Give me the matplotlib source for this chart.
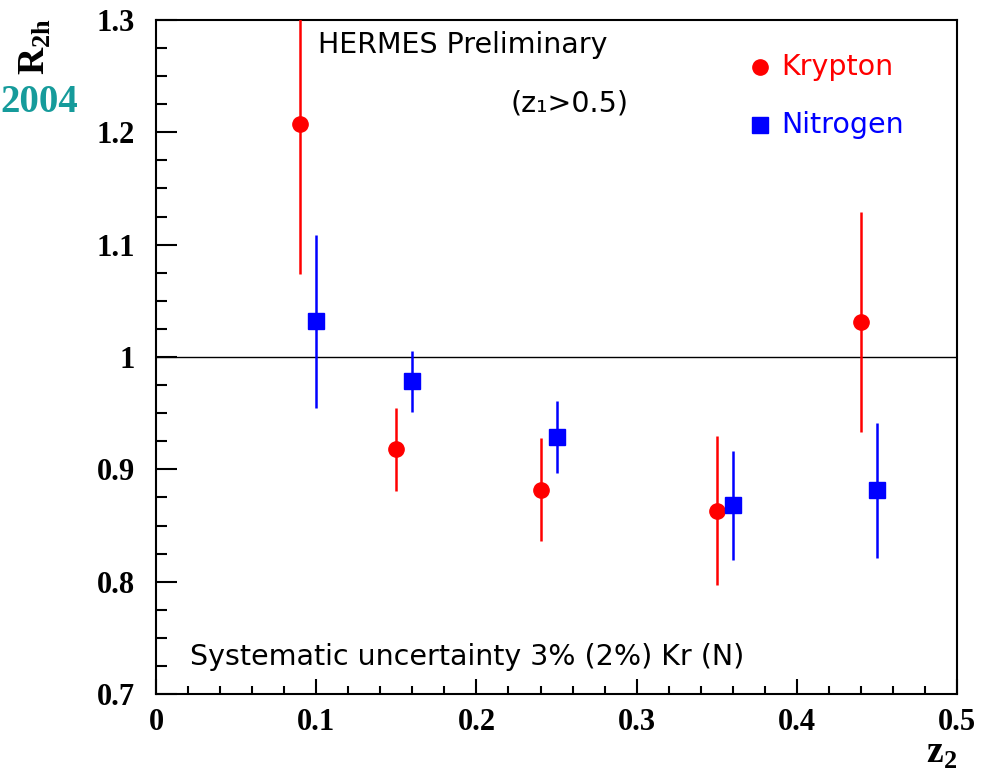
import numpy as np
import matplotlib
matplotlib.use("Agg")
import matplotlib.pyplot as plt
from matplotlib.ticker import MultipleLocator

# Krypton data
kr_z = [0.09, 0.15, 0.24, 0.35, 0.44]
kr_r = [1.207, 0.918, 0.882, 0.863, 1.031]
kr_lo = [0.133, 0.037, 0.046, 0.066, 0.098]
kr_hi = [0.133, 0.037, 0.046, 0.067, 0.098]

# Nitrogen data
n_z = [0.10, 0.16, 0.25, 0.36, 0.45]
n_r = [1.032, 0.979, 0.929, 0.868, 0.882]
n_lo = [0.077, 0.028, 0.032, 0.049, 0.061]
n_hi = [0.077, 0.026, 0.032, 0.048, 0.059]

xticks = [0, 0.1, 0.2, 0.3, 0.4, 0.5]
yticks = [0.7, 0.8, 0.9, 1.0, 1.1, 1.2, 1.3]

fig = plt.figure(figsize=(9.9, 7.77), dpi=100)
ax = fig.add_axes([0.1576, 0.1068, 0.8091, 0.8675])

ax.axhline(1.0, color="black", lw=1.0, zorder=1)

ax.errorbar(kr_z, kr_r, yerr=[kr_lo, kr_hi], fmt="o", color="red",
            ms=11, lw=1.8, capsize=0, zorder=3)
ax.errorbar(n_z, n_r, yerr=[n_lo, n_hi], fmt="s", color="blue",
            ms=12, lw=1.8, capsize=0, zorder=3)

ax.set_xlim(0, 0.5)
ax.set_ylim(0.7, 1.3)
ax.xaxis.set_minor_locator(MultipleLocator(0.02))
ax.yaxis.set_minor_locator(MultipleLocator(0.025))
ax.tick_params(which="both", direction="in", top=False, right=False, width=1.5)
ax.tick_params(axis="x", which="major", length=11, pad=10)
ax.tick_params(axis="x", which="minor", length=6)
ax.tick_params(axis="y", which="major", length=15, pad=15)
ax.tick_params(axis="y", which="minor", length=8)
ax.set_xticks(xticks)
ax.set_xticklabels(["0", "0.1", "0.2", "0.3", "0.4", "0.5"])
ax.set_yticks(yticks)
ax.set_yticklabels(["0.7", "0.8", "0.9", "1", "1.1", "1.2", "1.3"])
for lab in ax.get_xticklabels() + ax.get_yticklabels():
    lab.set_fontfamily("Liberation Serif")
    lab.set_fontweight("bold")
    lab.set_fontsize(22)
for s in ax.spines.values():
    s.set_linewidth(1.5)

# annotations
txt = dict(fontfamily="DejaVu Sans", fontsize=20.5)
ax.text(0.101, 1.278, "HERMES Preliminary", va="center", ha="left", **txt)
ax.text(0.221, 1.226, "(z\u2081>0.5)", va="center", ha="left", **txt)
ax.text(0.021, 0.733, "Systematic uncertainty 3% (2%) Kr (N)", va="center", ha="left", **txt)

ax.plot([0.377], [1.258], "o", color="red", ms=11)
ax.text(0.39, 1.258, "Krypton", color="red", va="center", ha="left", **txt)
ax.plot([0.377], [1.2065], "s", color="blue", ms=11)
ax.text(0.39, 1.2065, "Nitrogen", color="blue", va="center", ha="left", **txt)

fig.text(0.036, 0.94, "R$_\\mathregular{2h}$", rotation=90, ha="center", va="center",
         fontfamily="Liberation Serif", fontweight="bold", fontsize=27)
fig.text(0.0, 0.868, "2004", color="#169b9b", ha="left", va="center",
         fontfamily="Liberation Serif", fontweight="bold", fontsize=28)
fig.text(0.951, 0.008, "z$_\\mathregular{2}$", ha="center", va="bottom",
         fontfamily="Liberation Serif", fontweight="bold", fontsize=27)

fig.savefig("out.png", dpi=100)
